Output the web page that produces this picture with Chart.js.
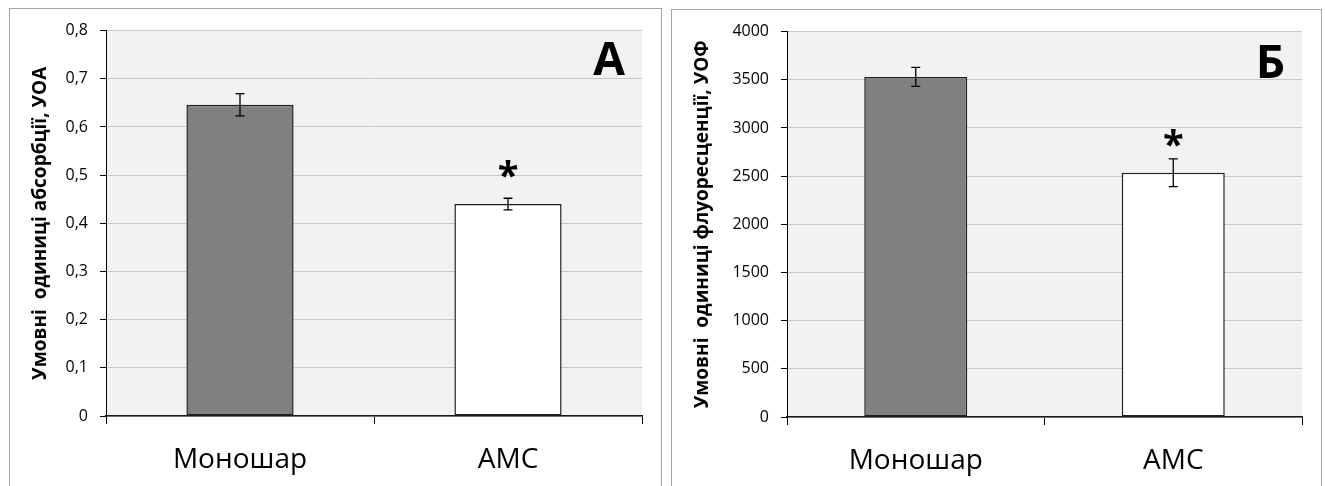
<!DOCTYPE html>
<html>
<head>
<meta charset="utf-8">
<script src="https://cdn.jsdelivr.net/npm/chart.js@4.4.0/dist/chart.umd.min.js"></script>
<style>
  body { margin: 0; background: #fff; width: 1325px; height: 486px; overflow: hidden; position: relative; }
  .panel { position: absolute; border: 1px solid #a6a6a6; background: #fff; }
  #p1 { left: 9px; top: 8px; width: 651px; height: 490px; }
  #p2 { left: 671px; top: 9px; width: 649px; height: 490px; }
  canvas { display: block; }
</style>
</head>
<body>
<div class="panel" id="p1"><canvas id="chartA" width="651" height="477"></canvas></div>
<div class="panel" id="p2"><canvas id="chartB" width="649" height="476"></canvas></div>
<script>
const categories = ['Моношар', 'АМС'];
const significant = [false, true];

const absorbValues = [0.646, 0.44];
const absorbErrors = [0.023, 0.012];
const absorbTicks = ['0', '0,1', '0,2', '0,3', '0,4', '0,5', '0,6', '0,7', '0,8'];

const fluorValues = [3530, 2535];
const fluorErrors = [98, 145];
const fluorTicks = ['0', '500', '1000', '1500', '2000', '2500', '3000', '3500', '4000'];

const FONT = "'Open Sans', 'Noto Sans', sans-serif";

function makeChart(id, cfg) {
    const ctx = document.getElementById(id).getContext('2d');
    const canvasH = ctx.canvas.height;

    // grey plot background, drawn before grid lines
    const plotBg = {
        id: 'plotBg',
        beforeDraw(chart) {
            const a = chart.chartArea;
            chart.ctx.save();
            chart.ctx.fillStyle = '#f2f2f2';
            chart.ctx.fillRect(a.left, a.top, a.right - a.left, a.bottom - a.top);
            chart.ctx.restore();
        }
    };

    // error bars, asterisk and the panel letter
    const extras = {
        id: 'extras',
        afterDatasetsDraw(chart) {
            const c = chart.ctx;
            const y = chart.scales.y;
            const meta = chart.getDatasetMeta(0);
            c.save();
            c.strokeStyle = '#000';
            c.lineWidth = 1.3;
            meta.data.forEach((bar, i) => {
                const top = y.getPixelForValue(cfg.values[i] + cfg.errors[i]);
                const bot = y.getPixelForValue(cfg.values[i] - cfg.errors[i]);
                c.beginPath();
                c.moveTo(bar.x, top); c.lineTo(bar.x, bot);
                c.moveTo(bar.x - 4.5, top); c.lineTo(bar.x + 4.5, top);
                c.moveTo(bar.x - 4.5, bot); c.lineTo(bar.x + 4.5, bot);
                c.stroke();
                if (significant[i]) {
                    c.font = 'bold 38px ' + FONT;
                    c.fillStyle = '#000';
                    c.textAlign = 'center';
                    c.textBaseline = 'alphabetic';
                    const m = c.measureText('*');
                    const mid = (m.actualBoundingBoxAscent - m.actualBoundingBoxDescent) / 2;
                    c.fillText('*', bar.x, top - cfg.starGap + mid);
                }
            });
            const a = chart.chartArea;
            c.font = 'bold 46px ' + FONT;
            c.fillStyle = '#000';
            c.textAlign = 'right';
            c.textBaseline = 'alphabetic';
            c.fillText(cfg.letter, a.right - 17, a.top + cfg.letterDrop);
            c.restore();
        }
    };

    return new Chart(ctx, {
        type: 'bar',
        data: {
            labels: categories,
            datasets: [{
                data: cfg.values,
                backgroundColor: ['#808080', '#ffffff'],
                borderColor: '#1f1f1f',
                borderWidth: 1.5,
                borderSkipped: false,
                categoryPercentage: 1.0,
                barPercentage: 0.4
            }]
        },
        options: {
            responsive: false,
            animation: false,
            events: [],
            layout: { padding: { left: 0, top: cfg.top, right: cfg.right, bottom: 0 } },
            plugins: { legend: { display: false }, tooltip: { enabled: false } },
            scales: {
                x: {
                    offset: true,
                    afterFit: (s) => { s.height = canvasH - cfg.bottom; },
                    grid: { display: true, offset: true, drawOnChartArea: false, tickLength: 8, tickColor: '#000' },
                    border: { color: '#1a1a1a', width: 1.5 },
                    ticks: { color: '#000', padding: 19, font: { family: FONT, size: 28 } }
                },
                y: {
                    min: 0,
                    max: cfg.max,
                    afterFit: (s) => { s.width = cfg.left; },
                    grid: { color: '#c8c8c8', lineWidth: 1, tickLength: 6, tickColor: '#000' },
                    border: { color: '#000', width: 1 },
                    ticks: {
                        stepSize: cfg.step,
                        color: '#000',
                        padding: 12,
                        font: { family: FONT, size: 16 },
                        callback: (v) => cfg.tickLabels[Math.round(v / cfg.step)]
                    },
                    title: {
                        display: true,
                        text: cfg.title,
                        color: '#000',
                        padding: { top: 19, bottom: 0 },
                        font: { family: FONT, size: 19, weight: 'bold' }
                    }
                }
            }
        },
        plugins: [plotBg, extras]
    });
}

makeChart('chartA', {
    values: absorbValues, errors: absorbErrors, tickLabels: absorbTicks,
    max: 0.8, step: 0.1,
    title: 'Умовні  одиниці абсорбції, УОА',
    letter: 'А', starGap: 29, letterDrop: 44,
    left: 96, top: 19, right: 19, bottom: 407
});

makeChart('chartB', {
    values: fluorValues, errors: fluorErrors, tickLabels: fluorTicks,
    max: 4000, step: 500,
    title: 'Умовні  одиниці флуоресценції, УОФ',
    letter: 'Б', starGap: 21, letterDrop: 46,
    left: 115, top: 20, right: 19, bottom: 407
});
</script>
</body>
</html>
